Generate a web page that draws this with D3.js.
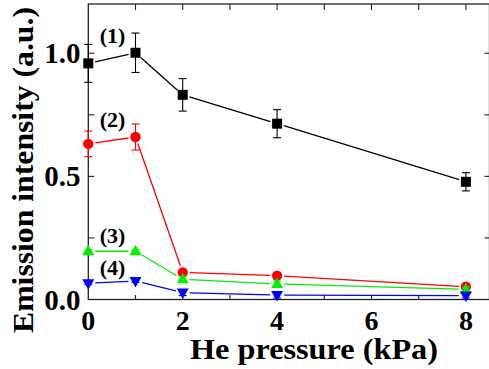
<!DOCTYPE html>
<html><head><meta charset="utf-8"><script src="https://cdn.jsdelivr.net/npm/d3@7"></script></head>
<body style="margin:0">
<svg id="chart" width="489" height="369" style="display:block"></svg>
<script>
// ---- data ----
const pressures = [0, 1, 2, 4, 8];
const series1 = [0.959, 1.002, 0.831, 0.714, 0.478];
const series1Err = [0.077, 0.080, 0.066, 0.057, 0.037];
const series2 = [0.632, 0.660, 0.110, 0.097, 0.052];
const series2Err = [0.052, 0.053, 0.008, 0.008, 0.008];
const series3 = [0.196, 0.196, 0.082, 0.063, 0.041];
const series3Err = [0.006, 0.006, 0.012, 0.012, 0.010];
const series4 = [0.066, 0.075, 0.028, 0.018, 0.016];
const series4Err = [0.005, 0.005, 0.012, 0.012, 0.010];
const seriesLabels = ["(1)", "(2)", "(3)", "(4)"];
const xTickLabels = ["0", "2", "4", "6", "8"];
const xTickValues = [0, 2, 4, 6, 8];
const yTickLabels = ["0.0", "0.5", "1.0"];
const yTickValues = [0, 0.5, 1.0];

const svg = d3.select("#chart");
const pL = 88.3, pR = 489.5, pT = 4, pB = 299.5;

const x = d3.scaleLinear().domain([0, 8.5]).range([pL, pR]);
const y = d3.scaleLinear().domain([0, 1.2]).range([pB, pT]);

const colors = ["#000000", "#ff0000", "#00ee00", "#0000ff"];
const shapes = ["square", "circle", "triUp", "triDown"];
const values = [series1, series2, series3, series4];
const errs = [series1Err, series2Err, series3Err, series4Err];

function serif(sel, size) {
  sel.attr("font-size", size).attr("font-weight", "bold")
     .attr("font-family", "Liberation Serif")
     .style("font-family", "\"Liberation Serif\", \"Times New Roman\", serif", "important")
     .style("font-weight", "700", "important")
     .style("font-size", size + "px", "important");
  return sel;
}

svg.append("rect").attr("x", pL).attr("y", pT)
  .attr("width", pR - pL).attr("height", pB - pT)
  .attr("fill", "none").attr("stroke", "#222").attr("stroke-width", 1.3);

const g = svg.append("g").attr("stroke", "#222").attr("stroke-width", 1.1);
d3.range(1, 9).forEach(v => {
  g.append("line").attr("x1", x(v)).attr("x2", x(v)).attr("y1", pB).attr("y2", pB - 4.5);
  g.append("line").attr("x1", x(v)).attr("x2", x(v)).attr("y1", pT).attr("y2", pT + 6);
});
[0.25, 0.5, 0.75, 1.0].forEach(v => {
  g.append("line").attr("x1", pL).attr("x2", pL + 6).attr("y1", y(v)).attr("y2", y(v));
  g.append("line").attr("x1", pR).attr("x2", pR - 5).attr("y1", y(v)).attr("y2", y(v));
});

const gap = 7;
values.forEach((vals, si) => {
  const col = colors[si];
  const gs = svg.append("g");
  const pts = pressures.map((p, i) => [x(p), y(vals[i])]);
  for (let i = 0; i < pts.length - 1; i++) {
    const [x1, y1] = pts[i], [x2, y2] = pts[i + 1];
    const dx = x2 - x1, dy = y2 - y1, L = Math.hypot(dx, dy);
    if (L <= 2 * gap) continue;
    const ux = dx / L, uy = dy / L;
    gs.append("line")
      .attr("x1", x1 + ux * gap).attr("y1", y1 + uy * gap)
      .attr("x2", x2 - ux * gap).attr("y2", y2 - uy * gap)
      .attr("stroke", col).attr("stroke-width", 1.3);
  }
  pressures.forEach((p, i) => {
    const cx = x(p), hi = y(vals[i] + errs[si][i]), lo = y(vals[i] - errs[si][i]);
    gs.append("line").attr("x1", cx).attr("x2", cx).attr("y1", hi).attr("y2", lo)
      .attr("stroke", col).attr("stroke-width", 1.1);
    [hi, lo].forEach(yy => gs.append("line").attr("x1", cx - 4).attr("x2", cx + 4)
      .attr("y1", yy).attr("y2", yy).attr("stroke", col).attr("stroke-width", 1.1));
  });
  pressures.forEach((p, i) => {
    const [cx, cy] = pts[i];
    const s = shapes[si];
    if (s === "square") {
      gs.append("rect").attr("x", cx - 5).attr("y", cy - 5).attr("width", 10).attr("height", 10).attr("fill", col);
    } else if (s === "circle") {
      gs.append("circle").attr("cx", cx).attr("cy", cy).attr("r", 5.2).attr("fill", col);
    } else if (s === "triUp") {
      gs.append("path").attr("d", `M${cx},${cy - 6.5}L${cx + 6},${cy + 4}L${cx - 6},${cy + 4}Z`).attr("fill", col);
    } else {
      gs.append("path").attr("d", `M${cx},${cy + 6.5}L${cx + 6},${cy - 4}L${cx - 6},${cy - 4}Z`).attr("fill", col);
    }
  });
});

xTickValues.forEach((v, i) => {
  serif(svg.append("text").attr("x", x(v)).attr("y", 330).attr("text-anchor", "middle"), 28)
    .text(xTickLabels[i]);
});
yTickValues.forEach((v, i) => {
  serif(svg.append("text").attr("x", 80.5).attr("y", y(v) + 10).attr("text-anchor", "end"), 29)
    .text(yTickLabels[i]);
});
serif(svg.append("text").attr("x", 190).attr("y", 359)
  .attr("textLength", 248).attr("lengthAdjust", "spacingAndGlyphs"), 29)
  .text("He pressure (kPa)");
serif(svg.append("text").attr("transform", "translate(33,333) rotate(-90)")
  .attr("textLength", 326).attr("lengthAdjust", "spacingAndGlyphs"), 29)
  .text("Emission intensity (a.u.)");

const labelY = [43, 127, 243, 275];
seriesLabels.forEach((t, i) => {
  serif(svg.append("text").attr("x", 112.5).attr("y", labelY[i]).attr("text-anchor", "middle"), 22)
    .text(t);
});
</script>
</body>
</html>
